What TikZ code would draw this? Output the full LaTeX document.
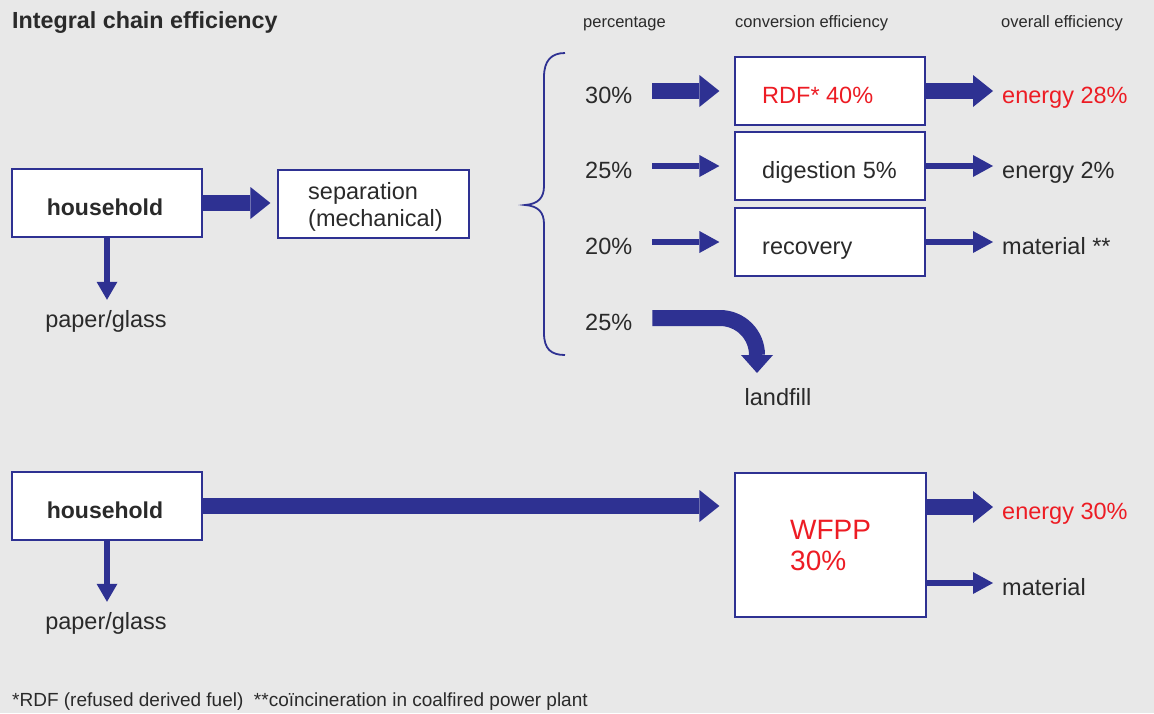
\documentclass[tikz,border=0pt]{standalone}
\usepackage{fontspec}
\setmainfont{Liberation Sans}
\usetikzlibrary{arrows.meta}
\definecolor{navy}{HTML}{2E3192}
\definecolor{hot}{HTML}{ED1C24}
\definecolor{ink}{HTML}{2A2A2A}
\definecolor{paper}{HTML}{E8E8E8}

\begin{document}
\begin{tikzpicture}[x=1pt,y=-1pt,
  txt/.style={font=\fontsize{23.5}{26}\selectfont, text=ink, inner sep=0pt},
  boldtxt/.style={txt, font=\fontsize{23}{26}\selectfont\bfseries},
  hottxt/.style={txt, text=hot},
  bigtxt/.style={inner sep=0pt, text=hot, font=\fontsize{28}{30}\selectfont},
  hdr/.style={font=\fontsize{16.5}{19}\selectfont, text=ink, inner sep=0pt, anchor=base west},
  box/.style={draw=navy, line width=1.2pt, fill=white, minimum width=190pt, minimum height=68pt, inner sep=0pt},
  fatarrow/.style={draw=navy, line width=16pt, -{Triangle[length=20pt,width=32pt,line width=0pt]}},
  slimarrow/.style={draw=navy, line width=6pt, -{Triangle[length=20pt,width=22pt,line width=0pt]}},
  droparrow/.style={draw=navy, line width=6pt, -{Triangle[length=18pt,width=21pt,line width=0pt]}},
]
% canvas
\fill[paper] (0,0) rectangle (1154,713);
\useasboundingbox (0,0) rectangle (1154,713);

% title and column headers
\node[anchor=base west, inner sep=0pt, text=ink, font=\fontsize{23.3}{26}\selectfont\bfseries] (title) at (12,28) {Integral chain efficiency};
\node[hdr] (hpct) at (583,27) {percentage};
\node[hdr] (hconv) at (735,27) {conversion efficiency};
\node[hdr] (hall) at (1001,27) {overall efficiency};

% ---------- chain with mechanical separation ----------
\node[box] (hh1) at (107,203) {};
\node[boldtxt, anchor=base] (hh1t) at (105,215) {household};
\node[box, minimum width=191pt] (sep) at (373.5,204) {};
\node[txt, anchor=base west] (sep1) at (308,199) {separation};
\node[txt, anchor=base west] (sep2) at (308,226) {(mechanical)};
\node[txt, anchor=base] (pg1) at (106,327) {paper/glass};

\draw[fatarrow, shorten >=7pt] (hh1.east) -- (hh1.east -| sep.west);
\draw[droparrow, shorten >=10pt] (hh1.south) -- (hh1.south |- pg1.north);

% brace gathering the fractions
\draw[navy, line width=1.8pt]
  (565,53) .. controls (551,53) and (544,61) .. (544,77) -- (544,186)
  .. controls (544,198) and (538,204) .. (525,205)
  .. controls (538,206) and (544,212) .. (544,224) -- (544,333)
  .. controls (544,349) and (551,355) .. (565,355);

% fractions
\node[txt, anchor=base west] (p1) at (585,103) {30\%};
\node[txt, anchor=base west] (p2) at (585,178) {25\%};
\node[txt, anchor=base west] (p3) at (585,254) {20\%};
\node[txt, anchor=base west] (p4) at (585,330) {25\%};

% conversion boxes
\node[box] (rdf) at (830,91) {};
\node[box] (dig) at (830,166) {};
\node[box] (rec) at (830,242) {};
\node[hottxt, anchor=base west] (rdft) at (762,103) {RDF* 40\%};
\node[txt, anchor=base west] (digt) at (762,178) {digestion 5\%};
\node[txt, anchor=base west] (rect) at (762,254) {recovery};

% overall results
\node[hottxt, anchor=base west] (o1) at (1002,103) {energy 28\%};
\node[txt, anchor=base west] (o2) at (1002,178) {energy 2\%};
\node[txt, anchor=base west] (o3) at (1002,254) {material **};

\draw[fatarrow, shorten <=20pt, shorten >=15pt] (p1.east |- rdf.west) -- (rdf.west);
\draw[slimarrow, shorten <=20pt, shorten >=15pt] (p2.east |- dig.west) -- (dig.west);
\draw[slimarrow, shorten <=20pt, shorten >=15pt] (p3.east |- rec.west) -- (rec.west);
\draw[fatarrow, shorten >=9pt] (rdf.east) -- (rdf.east -| o1.west);
\draw[slimarrow, shorten >=9pt] (dig.east) -- (dig.east -| o2.west);
\draw[slimarrow, shorten >=9pt] (rec.east) -- (rec.east -| o3.west);

% landfill branch
\node[txt, anchor=base] (lf) at (778,405) {landfill};
\coordinate (bend) at (720,318);
\coordinate (lfend) at (757,373);
\draw[draw=navy, line width=16pt, -{Triangle[length=18pt,width=32pt,line width=0pt]}, shorten <=20pt]
  (p4.east |- bend) -- (bend) arc[start angle=90, end angle=0, radius=37pt] -- (lfend);

% ---------- chain with waste fired power plant ----------
\node[box] (hh2) at (107,506) {};
\node[boldtxt, anchor=base] (hh2t) at (105,518) {household};
\node[txt, anchor=base] (pg2) at (106,629) {paper/glass};
\draw[droparrow, shorten >=10pt] (hh2.south) -- (hh2.south |- pg2.north);

\node[box, minimum width=191pt, minimum height=144pt] (wfpp) at (830.5,545) {};
\node[bigtxt, anchor=base west] (wf1) at (790,539) {WFPP};
\node[bigtxt, anchor=base west] (wf2) at (790,570) {30\%};

\node[hottxt, anchor=base west] (o5) at (1002,519) {energy 30\%};
\node[txt, anchor=base west] (o6) at (1002,595) {material};
\coordinate (wout1) at ([yshift=38pt]wfpp.east);
\coordinate (wout2) at ([yshift=-38pt]wfpp.east);

\draw[fatarrow, shorten >=15pt] (hh2.east) -- (hh2.east -| wfpp.west);
\draw[fatarrow, shorten >=9pt] (wout1) -- (wout1 -| o5.west);
\draw[slimarrow, shorten >=9pt] (wout2) -- (wout2 -| o6.west);

% footnote
\node[anchor=base west, inner sep=0pt, text=ink, font=\fontsize{19}{22}\selectfont] (note) at (12,706)
  {*RDF (refused derived fuel)\ \ **coïncineration in coalfired power plant};
\end{tikzpicture}
\end{document}
